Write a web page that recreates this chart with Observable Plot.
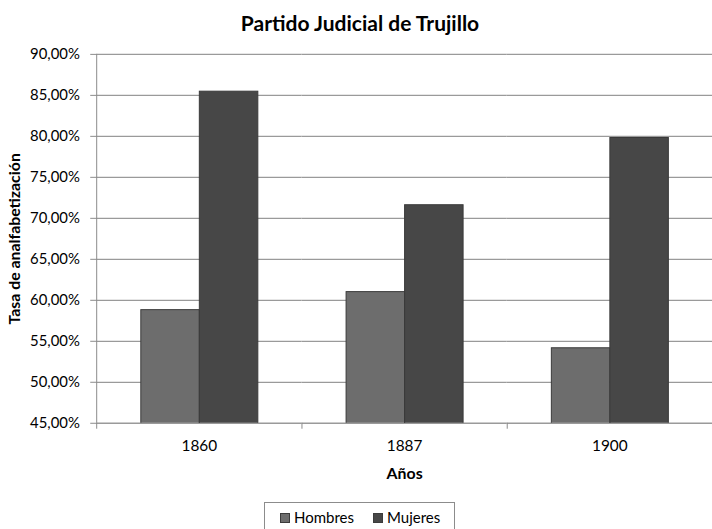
<!DOCTYPE html>
<html>
<head>
<meta charset="utf-8">
<script src="https://cdn.jsdelivr.net/npm/d3@7"></script>
<script src="https://cdn.jsdelivr.net/npm/@observablehq/plot@0.6"></script>
<style>
  html, body { margin: 0; padding: 0; background: #fff; overflow: hidden; }
  #wrap { position: relative; width: 712px; height: 529px; overflow: hidden; font-family: Lato, "Open Sans", sans-serif; }
  #title { position: absolute; left: 0; top: 10px; width: 720px; text-align: center; font-weight: bold; font-size: 21px; color: #000; }
  #chart, #overlay { position: absolute; left: 0; top: 40px; }
  #overlay { pointer-events: none; }
  #legend { position: absolute; left: 264px; top: 502px; width: 191px; height: 30px; border: 1px solid #8c8c8c; box-sizing: border-box; font-size: 15px; color: #000; }
  .item { position: absolute; top: 5px; line-height: 18px; }
  .sw { position: absolute; top: 5px; width: 10px; height: 10px; box-sizing: border-box; border: 1px solid #3c3c3c; }
</style>
</head>
<body>
<div id="wrap">
  <div id="title">Partido Judicial de Trujillo</div>
  <div id="chart"></div>
  <div id="overlay"></div>
  <div id="legend"></div>
</div>
<script>
const years = ["1860", "1887", "1900"];
const series = ["Hombres", "Mujeres"];
const hombres = [0.588, 0.610, 0.5415];
const mujeres = [0.8545, 0.716, 0.798];
const yTicks = [0.45, 0.50, 0.55, 0.60, 0.65, 0.70, 0.75, 0.80, 0.85, 0.90];
const xBounds = [0, 1, 2, 3];
const colors = ["#6d6d6d", "#474747"];
const yTitle = "Tasa de analfabetización";
const xTitle = "Años";

const table = [];
years.forEach((y, i) => {
  table.push({year: y, sex: series[0], value: hombres[i]});
  table.push({year: y, sex: series[1], value: mujeres[i]});
});

const fmt = d => (d * 100).toFixed(2).replace(".", ",") + "%";

const W = 718, H = 450;
const common = {
  width: W, height: H,
  marginTop: 14, marginBottom: 64, marginLeft: 97, marginRight: 0,
  style: {fontFamily: "Lato, 'Open Sans', sans-serif", fontSize: "15px", color: "#000", background: "transparent", overflow: "visible"}
};

const chart = Plot.plot({
  ...common,
  fx: {domain: years, padding: 0, label: null, axis: null},
  x: {domain: series, paddingInner: 0, paddingOuter: 0.754, axis: null},
  y: {domain: [0.45, 0.90], label: null, axis: null},
  color: {domain: series, range: colors},
  marks: [
    Plot.gridY(yTicks, {stroke: "#9a9a9a", strokeOpacity: 1, strokeWidth: 1.3}),
    Plot.barY(table, {fx: "year", x: "sex", y: "value", fill: "sex", stroke: "#3a3a3a", strokeWidth: 1, clip: true}),
    Plot.axisY(yTicks, {anchor: "left", tickFormat: fmt, tickSize: 6, tickPadding: 11, stroke: "#8a8a8a", fill: "#000", label: null}),
    Plot.axisY([], {anchor: "left", tickSize: 0, label: yTitle, labelArrow: "none", labelAnchor: "center",
      labelOffset: 89, fill: "#000"}),
    Plot.axisFx({anchor: "bottom", tickSize: 0, tickPadding: 17, label: null, fill: "#000"}),
    Plot.axisFx([], {anchor: "bottom", tickSize: 0, label: xTitle, labelArrow: "none", labelAnchor: "center", labelOffset: 56,
      fill: "#000"})
  ]
});
document.getElementById("chart").appendChild(chart);
chart.querySelectorAll("text").forEach(t => {
  if (t.textContent === yTitle) { t.style.fontSize = "16px"; t.style.fontWeight = "bold"; }
  if (t.textContent === xTitle) { t.style.fontSize = "16px"; t.style.fontWeight = "bold"; }
  if (years.includes(t.textContent)) { t.style.fontSize = "15.5px"; }
});

const overlay = Plot.plot({
  ...common,
  x: {domain: [0, 3], axis: null},
  y: {domain: [0.45, 0.90], axis: null},
  marks: [
    Plot.ruleX([0], {stroke: "#8a8a8a"}),
    Plot.axisX(xBounds, {anchor: "bottom", tickSize: 6, tickFormat: () => "", stroke: "#8a8a8a", label: null})
  ]
});
document.getElementById("overlay").appendChild(overlay);

const legend = document.getElementById("legend");
const legendPos = [{sw: 15, tx: 29}, {sw: 108, tx: 122}];
series.forEach((s, i) => {
  const sw = document.createElement("div");
  sw.className = "sw";
  sw.style.left = legendPos[i].sw + "px";
  sw.style.top = "10px";
  sw.style.background = colors[i];
  legend.appendChild(sw);
  const t = document.createElement("div");
  t.className = "item";
  t.style.left = legendPos[i].tx + "px";
  t.textContent = s;
  legend.appendChild(t);
});
</script>
</body>
</html>
